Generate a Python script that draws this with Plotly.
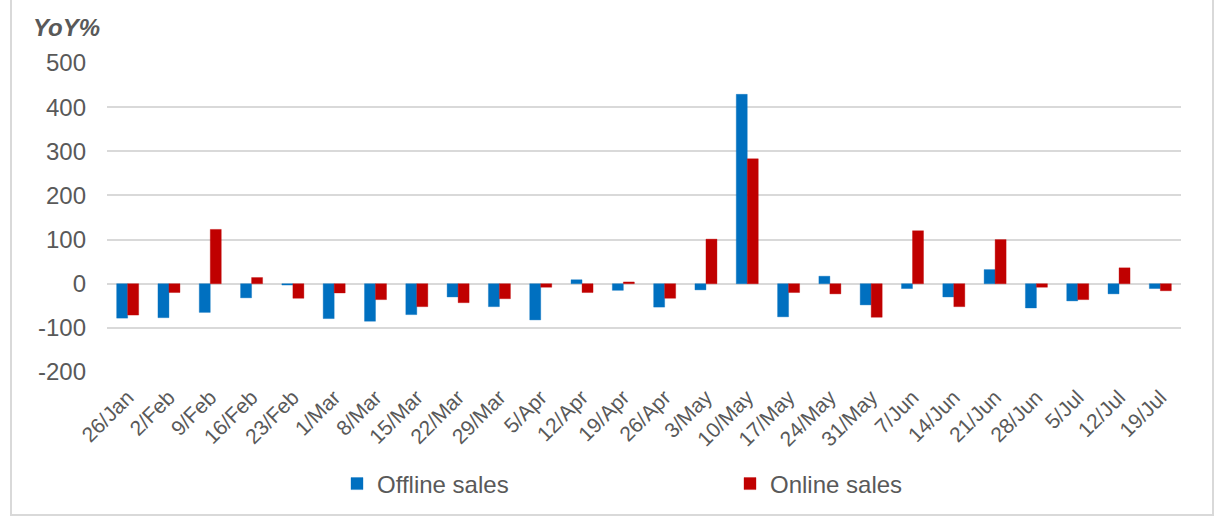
import plotly.graph_objects as go

# Weekly year-on-year change (%) of offline and online sales
weeks = ["26/Jan", "2/Feb", "9/Feb", "16/Feb", "23/Feb", "1/Mar", "8/Mar", "15/Mar",
         "22/Mar", "29/Mar", "5/Apr", "12/Apr", "19/Apr", "26/Apr", "3/May", "10/May",
         "17/May", "24/May", "31/May", "7/Jun", "14/Jun", "21/Jun", "28/Jun", "5/Jul",
         "12/Jul", "19/Jul"]
offline_sales = [-78, -77, -65, -32, -3, -79, -85, -70, -30, -52, -82, 9, -15, -53,
                 -14, 429, -75, 17, -48, -11, -30, 32, -55, -39, -23, -11]
online_sales = [-71, -20, 123, 14, -33, -21, -36, -52, -43, -34, -8, -20, 4, -33,
                101, 283, -20, -23, -76, 120, -52, 100, -8, -36, 36, -16]
y_ticks = [-200, -100, 0, 100, 200, 300, 400, 500]
y_tick_labels = ["-200", "-100", "0", "100", "200", "300", "400", "500"]

FONT = "Liberation Sans, Arial, sans-serif"
TEXT = "#595959"
GRID = "#D9D9D9"

W, H = 1217, 520
L, R, T, B = 107, 36, 63, 148
PW, PH = W - L - R, H - T - B


def px_x(x):
    return (x - L) / PW


def px_y(y):
    return (H - B - y) / PH


fig = go.Figure()
fig.add_trace(go.Bar(
    x=weeks, y=offline_sales, name="Offline sales",
    marker=dict(color="#0070C0", line=dict(color="rgba(0,112,192,0.35)", width=1)),
))
fig.add_trace(go.Bar(
    x=weeks, y=online_sales, name="Online sales",
    marker=dict(color="#C00000", line=dict(color="rgba(192,0,0,0.35)", width=1)),
))

fig.update_layout(
    width=W, height=H,
    margin=dict(l=L, r=R, t=T, b=B, autoexpand=False),
    paper_bgcolor="white", plot_bgcolor="white",
    barmode="group", bargap=0.467, bargroupgap=0,
    font=dict(family=FONT, color=TEXT, size=24),
    showlegend=True,
    legend=dict(
        orientation="h", x=px_x(337), xanchor="left", y=px_y(484), yanchor="middle",
        font=dict(family=FONT, size=24, color=TEXT),
        entrywidth=348, entrywidthmode="pixels",
        bgcolor="rgba(0,0,0,0)", itemclick=False,
    ),
    xaxis=dict(
        type="category", tickangle=-45, showgrid=False, showline=False,
        tickfont=dict(family=FONT, size=21, color=TEXT),
        ticks="", ticklabelstandoff=8, fixedrange=True,
    ),
    yaxis=dict(
        range=[-200, 500], tickvals=y_ticks, ticktext=y_tick_labels,
        showgrid=True, gridcolor=GRID, gridwidth=1.5,
        zeroline=True, zerolinecolor=GRID, zerolinewidth=1.5, showline=False,
        tickfont=dict(family=FONT, size=24, color=TEXT),
        ticklabelstandoff=20, ticks="", fixedrange=True,
    ),
    annotations=[dict(
        text="<b><i>YoY%</i></b>", xref="paper", yref="paper",
        x=px_x(31), y=px_y(27), xanchor="left", yanchor="middle",
        showarrow=False, font=dict(family=FONT, size=24, color=TEXT),
    )],
    shapes=[dict(
        type="rect", xref="paper", yref="paper",
        x0=px_x(11), x1=px_x(1213), y0=px_y(515), y1=px_y(-10),
        line=dict(color=GRID, width=2), fillcolor="rgba(0,0,0,0)", layer="below",
    )],
)

fig.write_html("out.html")
